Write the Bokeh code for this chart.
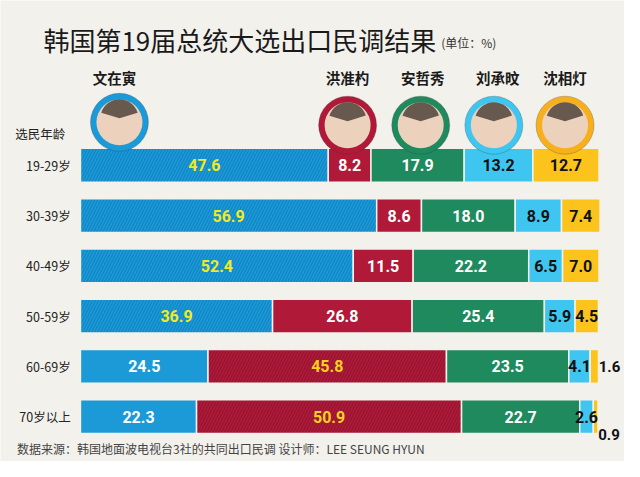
from bokeh.plotting import figure
from bokeh.models import Range1d, ColumnDataSource
from bokeh.core.properties import value
from bokeh.embed import file_html
from bokeh.resources import INLINE

# data
ages = ["19-29岁", "30-39岁", "40-49岁", "50-59岁", "60-69岁", "70岁以上"]
candidates = ["文在寅", "洪准杓", "安哲秀", "刘承旼", "沈相灯"]
moon = [47.6, 56.9, 52.4, 36.9, 24.5, 22.3]
hong = [8.2, 8.6, 11.5, 26.8, 45.8, 50.9]
ahn = [17.9, 18.0, 22.2, 25.4, 23.5, 22.7]
yoo = [13.2, 8.9, 6.5, 5.9, 4.1, 2.6]
sim = [12.7, 7.4, 7.0, 4.5, 1.6, 0.9]
series = [moon, hong, ahn, yoo, sim]

colors = ["#1b9ad7", "#b01a38", "#1e8a5e", "#3ec6f0", "#fbc31c"]
hatch_colors = ["#0f7fbf", "#8c1230", "#1e8a5e", "#3ec6f0", "#fbc31c"]
ring_colors = ["#1b9ad7", "#b01a38", "#1e8a5e", "#3ec6f0", "#f7b01c"]
label_colors = ["white", "white", "white", "#111111", "#111111"]
win_colors = ["#f2ea1f", "#fbd11f"]

BG = "#f3f1ec"
CJK = "Noto Sans CJK SC"
NUM = "Roboto"

# reference pixel -> data helpers (for decoration placement only)
def xd(px):
    return (px - 82) / 5.34

def yd(py):
    return (py - 170.5) / 52.0

p = figure(width=624, height=461, output_backend="svg", toolbar_location=None,
           x_range=Range1d(xd(0), xd(640)), y_range=Range1d(yd(477), yd(0)),
           min_border=0, background_fill_color=BG, border_fill_color=BG)
p.outline_line_color = None
p.axis.visible = False
p.grid.visible = False

rows = list(range(len(ages)))
winners = [max(range(5), key=lambda c: series[c][r]) for r in rows]

# stacked bars, labels collected and drawn on top afterwards
labels = []
left = [0.0] * len(rows)
for c, vals in enumerate(series):
    right = [l + v for l, v in zip(left, vals)]
    src = ColumnDataSource(dict(
        y=rows, left=left, right=right,
        hatch=["/" if winners[r] == c else " " for r in rows],
    ))
    p.hbar(y="y", left="left", right="right", height=0.673, source=src,
           fill_color=colors[c], line_color=BG, line_width=1.5,
           hatch_pattern="hatch", hatch_color=hatch_colors[c],
           hatch_alpha=0.75, hatch_scale=6, hatch_weight=1.3)

    for r in rows:
        v = vals[r]
        if v < 2:
            labels.append((right[r] + 0.05, r + (0.36 if v < 1 else 0.0),
                           f"{v:.1f}", "#111111", "left", "15px"))
        else:
            col = win_colors[min(c, 1)] if winners[r] == c else label_colors[c]
            labels.append(((left[r] + right[r]) / 2, r, f"{v:.1f}", col,
                           "center", "16px"))
    left = right

lx, ly, lt, lc, la, ls = map(list, zip(*labels))
p.text(x=lx, y=ly, text=lt, text_color=lc, text_align=la,
       text_baseline="middle", text_font=value(NUM),
       text_font_style="bold", text_font_size=ls)

# age labels
p.text(x=[xd(72)] * len(rows), y=rows, text=ages, text_align="right",
       text_baseline="middle", text_font=value(CJK), text_font_size="12.5px",
       text_color="#222222")
p.text(x=[xd(15)], y=[yd(138)], text=["选民年龄"], text_align="left",
       text_baseline="middle", text_font=value(CJK), text_font_size="12.5px",
       text_color="#222222")

# candidate portraits (placeholders) and names
cx = [xd(122), xd(356), xd(431), xd(506), xd(579)]
cy = [yd(126), yd(129), yd(129), yd(129), yd(129)]
nx = [xd(117), xd(356), xd(433), xd(510), xd(579)]
p.scatter(x=cx, y=cy, size=58, marker="circle", fill_color=ring_colors,
          line_color="#333333", line_alpha=0.25, line_width=1)
p.scatter(x=cx, y=cy, size=46, marker="circle", fill_color="#ecd2bd",
          line_color=None)
p.wedge(x=cx, y=[v - 0.08 for v in cy], radius=19, radius_units="screen",
        start_angle=0.3, end_angle=2.85, fill_color="#3b302a",
        fill_alpha=0.75, line_color=None)
p.text(x=nx, y=[yd(80)] * 5, text=candidates, text_align="center",
       text_baseline="middle", text_font=value(CJK), text_font_size="14.5px",
       text_font_style="bold", text_color="#1a1a1a")

# title, unit and source
p.text(x=[xd(44)], y=[yd(40)], text=["韩国第19届总统大选出口民调结果"],
       text_align="left", text_baseline="middle", text_font=value(CJK),
       text_font_size="26px", text_color="#1a1a1a")
p.text(x=[xd(452)], y=[yd(43)], text=["(单位：%)"], text_align="left",
       text_baseline="middle", text_font=value(CJK), text_font_size="12px",
       text_color="#333333")
p.text(x=[xd(17)], y=[yd(464)],
       text=["数据来源：韩国地面波电视台3社的共同出口民调   设计师：LEE SEUNG HYUN"],
       text_align="left", text_baseline="middle", text_font=value(CJK),
       text_font_size="12px", text_color="#444444")

open("out.html", "w").write(file_html(p, INLINE))
